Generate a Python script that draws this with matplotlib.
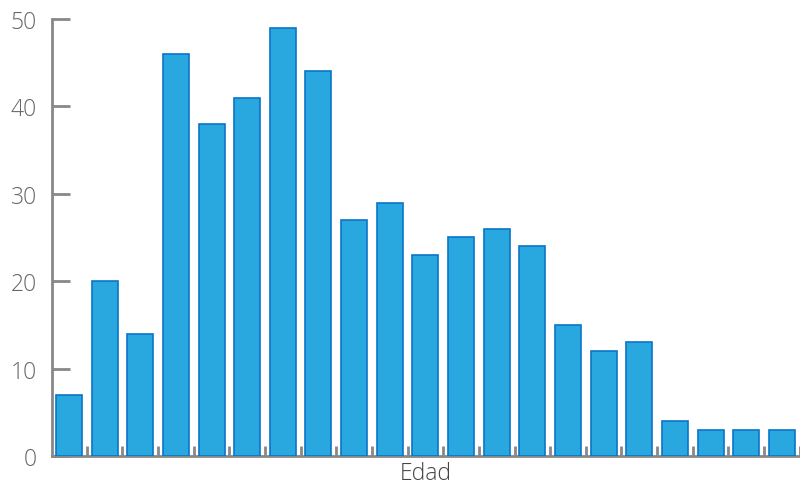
import matplotlib
matplotlib.use("Agg")
import matplotlib.pyplot as plt
import numpy as np

values = [7, 20, 14, 46, 38, 41, 49, 44, 27, 29, 23, 25, 26, 24, 15, 12, 13, 4, 3, 3, 3]
yticks = [0, 10, 20, 30, 40, 50]
xlabel = "Edad"

plt.rcParams['font.family'] = ['Open Sans', 'DejaVu Sans']

fig = plt.figure(figsize=(8, 4.85), dpi=100)
ax = fig.add_axes([0.065, 0.0577, 0.935, 0.9011])

x = np.arange(len(values))
ax.bar(x, values, width=0.73, color='#29a8e0', edgecolor='#0b74c8', linewidth=1.2, zorder=3)

ax.set_xlim(-0.477, len(values) - 0.49)
ax.set_ylim(0, 50)
ax.set_yticks(yticks)
ax.set_yticklabels([str(v) for v in yticks])
ax.set_xticks(np.arange(len(values)) + 0.5)
ax.set_xticklabels([])

for s in ['top', 'right']:
    ax.spines[s].set_visible(False)
for s in ['left', 'bottom']:
    ax.spines[s].set_color('#888888')
    ax.spines[s].set_linewidth(2)

ax.tick_params(axis='y', direction='in', length=13, width=2, color='#888888',
               labelsize=16.5, labelcolor='#666666', pad=11)
ax.tick_params(axis='x', direction='in', length=7, width=2, color='#888888')
for lab in ax.get_yticklabels():
    lab.set_fontweight('light')

ax.set_xlabel(xlabel, fontsize=16.5, color='#444444', fontweight='light', labelpad=0)

fig.savefig("out.png", dpi=100)
